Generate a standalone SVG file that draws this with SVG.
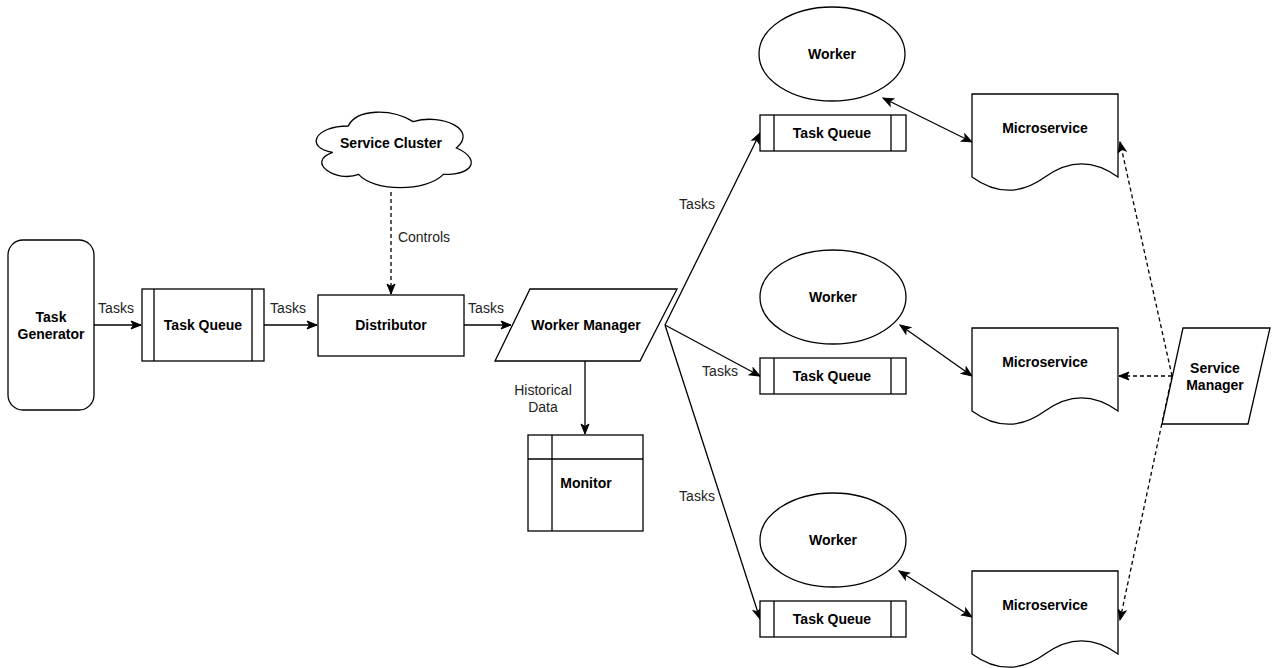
<svg xmlns="http://www.w3.org/2000/svg" width="1279" height="668" viewBox="0 0 1279 668">
<style>
.s{fill:#fff;stroke:#000;stroke-width:1.3}
.l{fill:none;stroke:#000;stroke-width:1.3}
.t{font-family:"Liberation Sans",Arial,sans-serif;font-size:14px;font-weight:bold;fill:#000;text-anchor:middle}
.e{font-family:"Liberation Sans",Arial,sans-serif;font-size:14px;fill:#222;text-anchor:middle}
.c{fill:none;stroke:#000;stroke-width:1.3}
.d{stroke-dasharray:4 3}
</style>
<defs>
<marker id="a" markerUnits="userSpaceOnUse" markerWidth="12" markerHeight="12" viewBox="0 0 12 12" refX="11" refY="6" orient="auto-start-reverse">
<path d="M1,2 L11,6 L1,10 L3.5,6 Z" fill="#000" stroke="#000" stroke-width="1"/>
</marker>
</defs>
<g id="connectors">
<path class="c" d="M94,325 L141,325" marker-end="url(#a)"/>
<path class="c" d="M264,325 L317,325" marker-end="url(#a)"/>
<path class="c" d="M464,325 L511,325" marker-end="url(#a)"/>
<path class="c d" d="M391,192 L391,294" marker-end="url(#a)"/>
<path class="c" d="M585,361 L585,434" marker-end="url(#a)"/>
<path class="c" d="M665,325 L760,133" marker-end="url(#a)"/>
<path class="c" d="M665,325 L760,376" marker-end="url(#a)"/>
<path class="c" d="M665,325 L760,619" marker-end="url(#a)"/>
<path class="c" d="M883,98 L972,142" marker-start="url(#a)" marker-end="url(#a)"/>
<path class="c" d="M900,325 L972,376" marker-start="url(#a)" marker-end="url(#a)"/>
<path class="c" d="M899,571 L972,617" marker-start="url(#a)" marker-end="url(#a)"/>
<path class="c d" d="M1172,376 L1120,142" marker-end="url(#a)"/>
<path class="c d" d="M1172,376 L1119,376" marker-end="url(#a)"/>
<path class="c d" d="M1172,376 L1120,620" marker-end="url(#a)"/>
<text class="e" x="116" y="313">Tasks</text>
<text class="e" x="288" y="313">Tasks</text>
<text class="e" x="486" y="313">Tasks</text>
<text class="e" x="424" y="242">Controls</text>
<text class="e" x="543" y="395">Historical</text>
<text class="e" x="543" y="412">Data</text>
<text class="e" x="697" y="209">Tasks</text>
<text class="e" x="720" y="376">Tasks</text>
<text class="e" x="697" y="501">Tasks</text>
</g>
<g id="task-generator">
<rect class="s" x="8" y="240" width="86" height="170" rx="15"/>
<text class="t" x="51" y="322">Task</text>
<text class="t" x="51" y="339">Generator</text>
</g>
<g id="task-queue-1">
<rect class="s" x="142" y="289" width="122" height="72"/>
<path class="l" d="M154,289 V361 M252,289 V361"/>
<text class="t" x="203" y="330">Task Queue</text>
</g>
<g id="distributor">
<rect class="s" x="318" y="295" width="146" height="61"/>
<text class="t" x="391" y="330">Distributor</text>
</g>
<g id="service-cluster">
<path class="s" transform="translate(305,104) scale(173,88)" vector-effect="non-scaling-stroke" d="M0.25,0.25 C0.05,0.25 0,0.5 0.16,0.55 C0,0.66 0.18,0.9 0.31,0.8 C0.4,1 0.7,1 0.8,0.8 C1,0.8 1,0.6 0.875,0.5 C1,0.3 0.8,0.1 0.625,0.2 C0.5,0.05 0.3,0.05 0.25,0.25 Z"/>
<text class="t" x="391" y="148">Service Cluster</text>
</g>
<g id="worker-manager">
<polygon class="s" points="530,289 677,289 640,361 495,361"/>
<text class="t" x="586" y="330">Worker Manager</text>
</g>
<g id="monitor">
<rect class="s" x="528" y="435" width="115" height="96"/>
<path class="l" d="M552,435 V531 M528,459 H643"/>
<text class="t" x="586" y="488">Monitor</text>
</g>
<g id="worker-1">
<ellipse class="s" cx="832" cy="54" rx="73" ry="47"/>
<text class="t" x="832" y="59">Worker</text>
</g>
<g id="worker-2">
<ellipse class="s" cx="833" cy="297" rx="73" ry="47"/>
<text class="t" x="833" y="302">Worker</text>
</g>
<g id="worker-3">
<ellipse class="s" cx="833" cy="540" rx="73" ry="47"/>
<text class="t" x="833" y="545">Worker</text>
</g>
<g id="task-queue-2">
<rect class="s" x="760" y="115" width="146" height="36"/>
<path class="l" d="M774,115 V151 M891,115 V151"/>
<text class="t" x="832" y="138">Task Queue</text>
</g>
<g id="task-queue-3">
<rect class="s" x="760" y="358" width="146" height="36"/>
<path class="l" d="M774,358 V394 M891,358 V394"/>
<text class="t" x="832" y="381">Task Queue</text>
</g>
<g id="task-queue-4">
<rect class="s" x="760" y="601" width="146" height="36"/>
<path class="l" d="M774,601 V637 M891,601 V637"/>
<text class="t" x="832" y="624">Task Queue</text>
</g>
<g id="microservice-1">
<path class="s" d="M972,94 H1118 V177 Q1081.5,150.6 1045,177 T972,177 Z"/>
<text class="t" x="1045" y="133">Microservice</text>
</g>
<g id="microservice-2">
<path class="s" d="M972,328 H1118 V411 Q1081.5,384.6 1045,411 T972,411 Z"/>
<text class="t" x="1045" y="367">Microservice</text>
</g>
<g id="microservice-3">
<path class="s" d="M972,571 H1118 V654 Q1081.5,627.6 1045,654 T972,654 Z"/>
<text class="t" x="1045" y="610">Microservice</text>
</g>
<g id="service-manager">
<polygon class="s" points="1183,328 1270,328 1248,424 1162,424"/>
<text class="t" x="1215" y="373">Service</text>
<text class="t" x="1215" y="390">Manager</text>
</g>
</svg>
